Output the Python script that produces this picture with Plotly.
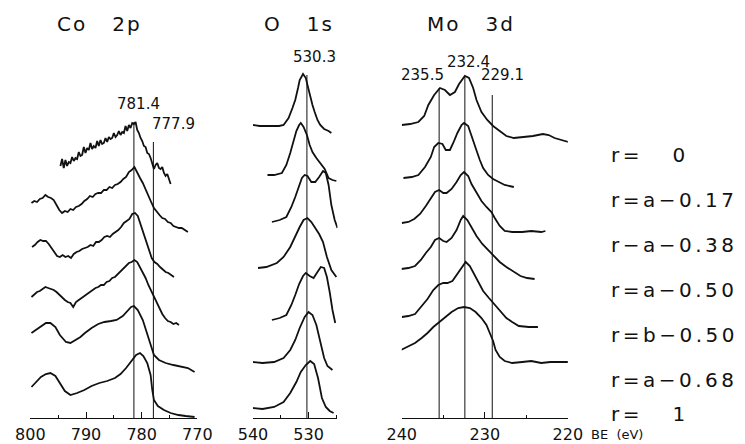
import plotly.graph_objects as go

# ---------------- data (binding energy in eV, intensity in arbitrary units) ----------------
samples = ["r=\u00a0\u00a0\u00a00", "r=a\u22120.17", "r\u2212a\u22120.38", "r=a\u22120.50",
           "r=b\u22120.50", "r=a\u22120.68", "r=\u00a0\u00a0\u00a01"]

# Co 2p
co_a017_be = [794.6,794.3,794.0,793.7,793.4,793.1,792.8,792.5,792.2,791.9,791.6,791.3,791.0,790.7,790.4,790.1,789.8,789.5,789.2,788.9,788.6,788.3,788.0,787.7,787.4,787.1,786.8,786.5,786.2,785.9,785.6,785.3,785.0,784.7,784.4,784.1,783.8,783.5,783.2,782.9,782.6,782.3,782.0,781.7,781.4,781.1,780.8,780.5,780.2,779.9,779.6,779.3,779.0,778.7,778.4,778.1,777.8,777.5,777.2,776.9,776.6,776.3,776.0,775.7,775.4,775.1,774.8]
co_a017_int = [24,31,22,30,24,28,27,33,29,32,31,38,34,35,43,37,42,40,47,41,44,42,49,44,50,46,47,52,48,53,51,52,57,53,55,59,55,58,57,64,59,65,62,67,66,68,60,57,52,49,44,43,37,36,32,25,21,25,27,22,21,23,17,14,16,11,6]
co_a038_be = [799.8,799.3,798.8,798.3,797.8,797.3,796.8,796.3,795.8,795.3,794.8,794.3,793.8,793.3,792.8,792.3,791.8,791.3,790.8,790.3,789.8,789.3,788.8,788.3,787.8,787.3,786.8,786.3,785.8,785.3,784.8,784.3,783.8,783.3,782.8,782.3,781.8,781.3,780.8,780.3,779.8,779.3,778.8,778.3,777.8,777.3,776.8,776.3,775.8,775.3,774.8,774.3,773.8,773.3,772.8,772.3,771.7]
co_a038_int = [29,31,30,33,34,37,35,34,32,27,22,19,21,20,23,22,25,26,28,31,33,36,35,38,39,39,42,42,45,44,47,48,50,53,55,60,62,65,59,54,49,42,36,30,24,20,17,14,13,10,9,6,5,4,4,2,0]
co_a050_be = [799.7,799.2,798.7,798.2,797.7,797.2,796.7,796.2,795.7,795.2,794.7,794.2,793.7,793.2,792.7,792.2,791.7,791.2,790.7,790.2,789.7,789.2,788.7,788.2,787.7,787.2,786.7,786.2,785.7,785.2,784.7,784.2,783.7,783.2,782.7,782.2,781.7,781.2,780.7,780.2,779.7,779.2,778.7,778.2,777.7,777.2,776.7,776.2,775.7,775.2,774.7,774.2]
co_a050_int = [30,32,35,37,36,36,33,29,24,21,20,22,20,21,19,23,25,26,28,29,30,32,31,35,35,37,40,41,40,43,45,47,50,54,56,58,63,64,61,53,44,36,28,19,15,13,10,7,5,4,2,0]
co_b050_be = [799.8,799.3,798.8,798.3,797.8,797.3,796.8,796.3,795.8,795.3,794.8,794.3,793.8,793.3,792.8,792.3,791.8,791.3,790.8,790.3,789.8,789.3,788.8,788.3,787.8,787.3,786.8,786.3,785.8,785.3,784.8,784.3,783.8,783.3,782.8,782.3,781.8,781.3,780.8,780.3,779.8,779.3,778.8,778.3,777.8,777.3,776.8,776.3,775.8,775.3,774.8,774.3,773.8,773.3]
co_b050_int = [28,31,33,34,36,38,37,36,35,33,30,27,25,23,22,18,23,25,27,29,31,33,35,37,38,40,40,43,44,47,48,51,54,57,60,62,63,65,63,58,53,47,40,34,29,23,17,11,7,4,3,1,2,0]
co_a068_be = [799.8,799.0,798.1,797.2,796.4,795.5,794.7,793.6,792.8,791.9,791.0,790.2,789.0,787.8,786.7,785.5,784.5,783.4,782.6,781.9,781.4,780.7,779.8,779.0,778.3,777.8,776.9,775.7,774.3,772.9,771.7,770.5]
co_a068_int = [39,42,46,49,49,45,37,30,29,32,35,39,44,48,50,51,52,56,61,65,66,62,52,37,24,17,12,9,7,5,4,0]
co_r1_be = [799.8,799.0,798.1,797.2,796.4,795.5,794.7,793.8,792.8,791.6,790.3,789.0,787.6,786.2,784.8,783.8,782.8,781.9,781.0,780.3,779.7,779.0,778.4,778.1,777.8,777.1,776.0,774.8,773.4,772.1,770.5]
co_r1_int = [31,36,41,44,45,42,35,27,23,25,28,32,35,37,40,44,50,57,63,65,62,55,43,28,18,12,8,5,3,2,1]

# O 1s
o_r0_be = [540.0,538.8,537.1,535.3,534.5,533.6,532.9,532.4,531.9,531.6,531.0,530.5,530.2,529.8,529.3,528.9,528.4,527.9,527.2,526.4,525.9]
o_r0_int = [8,7,7,7,8,15,25,33,45,53,59,55,48,38,28,21,13,8,4,2,0]
o_a017_be = [537.4,536.2,534.8,534.0,533.3,532.8,532.2,531.7,531.4,530.9,530.3,529.8,529.3,528.6,528.1,527.6,527.1,526.4,525.7,525.0]
o_a017_int = [6,6,8,16,28,38,50,56,58,54,46,36,29,23,19,16,12,3,1,0]
o_a038_be = [536.6,535.2,534.0,533.1,532.4,531.7,531.2,530.7,530.2,529.5,528.8,528.1,527.4,526.9,526.4,525.9,525.3,524.8]
o_a038_int = [6,8,11,21,31,43,50,53,52,46,46,51,57,55,43,23,8,0]
o_a050_be = [539.1,537.6,535.7,534.5,533.3,532.4,531.6,530.9,530.2,529.5,528.8,528.1,527.4,526.7,525.9,525.0]
o_a050_int = [9,10,14,20,30,41,50,57,59,55,49,43,35,20,7,0]
o_b050_be = [536.6,535.2,534.0,533.1,532.4,531.7,531.0,530.5,529.8,529.1,528.4,527.8,527.2,526.7,526.2,525.7,525.2]
o_b050_int = [3,5,8,18,28,39,47,50,47,45,51,56,55,46,31,13,0]
o_a068_be = [540.0,538.3,536.2,534.5,533.3,532.4,531.6,530.7,530.0,529.3,528.6,527.9,527.2,526.6,525.7]
o_a068_int = [8,7,8,12,20,30,42,53,58,55,45,28,12,4,0]
o_r1_be = [540.0,538.3,536.2,534.5,533.3,532.2,531.4,530.5,529.7,529.0,528.3,527.6,526.9,526.2,525.5]
o_r1_int = [5,4,6,11,20,31,41,48,52,49,35,15,6,2,0]

# Mo 3d
mo_r0_be = [240.0,239.0,238.0,237.3,236.8,236.1,235.4,234.8,234.2,233.6,233.1,232.4,231.9,231.4,231.0,230.4,229.7,229.0,228.2,227.4,226.5,225.3,224.2,223.0,222.3,221.6,220.7,219.9]
mo_r0_int = [17,18,20,26,37,47,54,52,47,50,58,66,64,54,42,30,22,16,11,6,4,5,6,8,7,4,2,0]
mo_a017_be = [239.8,238.8,238.0,237.2,236.5,236.1,235.6,235.1,234.7,234.2,233.8,233.3,232.8,232.5,232.0,231.6,231.1,230.6,230.2,229.6,229.0,228.3,227.6,226.5]
mo_a017_int = [9,10,12,20,30,40,44,43,37,37,44,54,62,64,61,52,39,27,19,12,8,5,2,0]
mo_a038_be = [240.0,239.2,238.5,237.8,237.1,236.5,236.0,235.5,235.0,234.6,234.0,233.4,232.9,232.5,232.0,231.6,231.0,230.4,229.8,229.2,228.8,228.2,227.6,226.7,225.5,224.4,223.2,222.7]
mo_a038_int = [9,10,13,18,26,34,40,42,39,39,43,50,57,60,56,48,39,31,25,20,14,6,1,0,0,1,0,1]
mo_a050_be = [240.1,239.2,238.4,237.7,237.1,236.5,236.0,235.5,235.0,234.6,234.0,233.4,232.9,232.6,232.1,231.6,231.0,230.3,229.6,228.9,228.2,227.4,226.5,225.7,224.9,224.0]
mo_a050_int = [10,11,13,19,26,32,39,41,38,37,41,49,59,63,59,51,43,35,29,23,17,12,7,3,1,0]
mo_b050_be = [240.0,239.2,238.4,237.6,236.9,236.2,235.6,235.0,234.5,233.9,233.3,232.7,232.3,231.8,231.3,230.8,230.2,229.5,228.8,228.1,227.4,226.7,225.9,224.7,223.6]
mo_b050_int = [10,11,13,21,28,37,42,44,44,46,53,61,65,61,53,44,36,29,22,15,9,5,1,0,0]
mo_a068_be = [240.1,239.2,238.4,237.6,236.9,236.2,235.5,234.8,234.0,233.2,232.5,231.8,231.1,230.4,229.8,229.4,229.0,228.7,228.2,227.6,226.7,225.5,224.4,223.2,222.1,220.9,219.9]
mo_a068_int = [12,16,19,24,29,35,40,45,50,54,55,54,50,44,37,29,21,12,5,1,-1,0,1,-1,0,0,0]

co_lines = [781.4, 777.9]
o_lines = [530.3]
mo_lines = [235.5, 232.4, 229.1]

panel_titles = ["Co\u00a0\u00a0\u00a02p", "O\u00a0\u00a0\u00a01s", "Mo\u00a0\u00a0\u00a03d"]
co_ticks = [800, 790, 780, 770]
o_ticks = [540, 530]
mo_ticks = [240, 230, 220]

# ---------------- layout constants (vertical stacking offsets, a.u.) ----------------
co_traces = [(co_a017_be, co_a017_int, 228), (co_a038_be, co_a038_int, 186),
             (co_a050_be, co_a050_int, 141), (co_b050_be, co_b050_int, 93),
             (co_a068_be, co_a068_int, 46), (co_r1_be, co_r1_int, 0)]
o_traces = [(o_r0_be, o_r0_int, 285), (o_a017_be, o_a017_int, 237), (o_a038_be, o_a038_int, 190),
            (o_a050_be, o_a050_int, 141), (o_b050_be, o_b050_int, 95), (o_a068_be, o_a068_int, 48),
            (o_r1_be, o_r1_int, 5)]
mo_traces = [(mo_r0_be, mo_r0_int, 276), (mo_a017_be, mo_a017_int, 231), (mo_a038_be, mo_a038_int, 186),
             (mo_a050_be, mo_a050_int, 139), (mo_b050_be, mo_b050_int, 91), (mo_a068_be, mo_a068_int, 56)]

W, H = 745, 444
PLOT_H = 418
FONT = "DejaVu Sans"
BLACK = "#111111"


def spaced(text, px):
    return f'<span style="letter-spacing:{px}px">{text}</span>'


fig = go.Figure()
for axis, group in (("x", co_traces), ("x2", o_traces), ("x3", mo_traces)):
    for be, inten, off in group:
        fig.add_trace(go.Scatter(x=be, y=[v + off for v in inten], xaxis=axis, yaxis="y",
                                 mode="lines", line=dict(color=BLACK, width=1.8),
                                 showlegend=False, hoverinfo="skip"))

# reference lines and their labels
line_specs = [("x", co_lines, [296, 276], [(314, 5), (294, 20)]),
              ("x2", o_lines, [343], [(361, 8)]),
              ("x3", mo_lines, [330, 342, 323], [(343, -17), (356, 4), (343, 10)])]
annotations = []
shapes = []
for axis, vals, tops, labs in line_specs:
    for v, top, (ly, dx) in zip(vals, tops, labs):
        shapes.append(dict(type="line", xref=axis, yref="y", x0=v, x1=v, y0=0, y1=top,
                           line=dict(color=BLACK, width=1)))
        annotations.append(dict(xref=axis, yref="y", x=v, y=ly, xshift=dx, text=f"{v:.1f}",
                                showarrow=False, font=dict(family=FONT, size=15, color=BLACK)))

# panel titles
for t, xc in zip(panel_titles, [88, 296, 475]):
    annotations.append(dict(xref="paper", yref="y", x=xc / W, y=PLOT_H - 24,
                            yanchor="middle", xanchor="center", text=spaced(t, 2), showarrow=False,
                            font=dict(family=FONT, size=20, color=BLACK)))

# sample labels (pixel rows from the top)
label_px = [155, 200, 245, 290, 335, 380, 414]
for s, py in zip(samples, label_px):
    annotations.append(dict(xref="paper", yref="paper", x=619 / W, y=(PLOT_H - py) / PLOT_H,
                            xanchor="left", yanchor="middle", text=spaced(s, 3.5), showarrow=False,
                            font=dict(family=FONT, size=20, color=BLACK)))

annotations.append(dict(xref="paper", yref="paper", x=598 / W, y=(PLOT_H - 434) / PLOT_H,
                        xanchor="left", yanchor="middle", text="BE\u00a0\u00a0(eV)", showarrow=False,
                        font=dict(family=FONT, size=13, color=BLACK)))


def xaxis_cfg(x0, x1, rng, ticks):
    return dict(domain=[x0 / W, x1 / W], range=rng, anchor="y", showgrid=False, zeroline=False,
                showline=True, linecolor=BLACK, linewidth=1, ticks="inside", ticklen=6,
                tickcolor=BLACK, tickwidth=1, tickvals=ticks, ticktext=[str(t) for t in ticks],
                tickfont=dict(family=FONT, size=16, color=BLACK), ticklabelstandoff=2,
                minor=dict(dtick=5, ticks="inside", ticklen=3, tickcolor=BLACK, tickwidth=1))


fig.update_layout(
    width=W, height=H, margin=dict(l=0, r=0, t=0, b=H - PLOT_H),
    paper_bgcolor="white", plot_bgcolor="white",
    xaxis=xaxis_cfg(16, 190, [800, 770], co_ticks),
    xaxis2=xaxis_cfg(248, 336, [540, 524.8], o_ticks),
    xaxis3=xaxis_cfg(403, 576, [240, 220], mo_ticks),
    yaxis=dict(range=[0, PLOT_H], domain=[0, 1], visible=False, fixedrange=True),
    annotations=annotations, shapes=shapes, showlegend=False,
)

fig.write_html("out.html")
